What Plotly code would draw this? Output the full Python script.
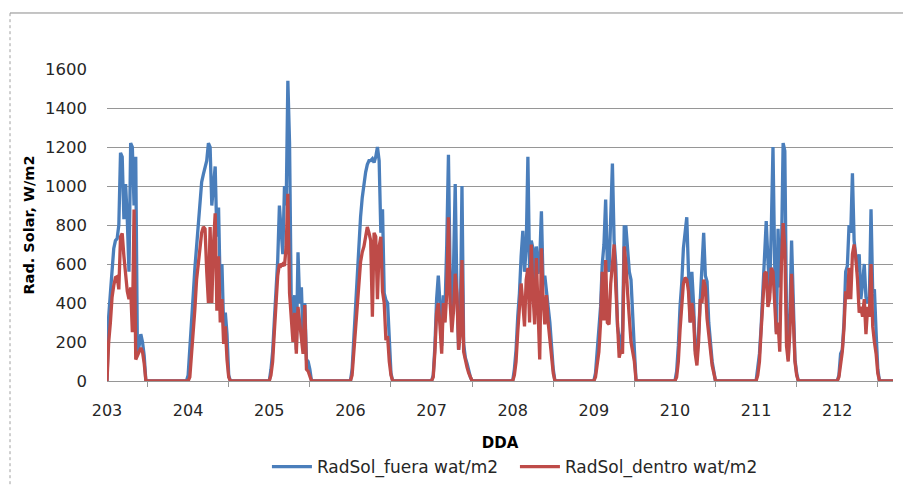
import numpy as np
import plotly.graph_objects as go

# Day-of-year labels on the horizontal axis
dias = [203, 204, 205, 206, 207, 208, 209, 210, 211, 212]
etiquetas = [str(d) for d in dias]
muestras_por_dia = 48          # half-hourly records
muestras_ultimo_dia = 34       # the record stops part-way through day 212

# Outside radiation (W/m2), half-hourly from sunrise of each day
fuera_203 = [0, 330, 450, 560, 680, 720, 730, 800, 1170, 1150, 830, 1010, 830, 560, 1220, 1200, 900, 1150, 140, 180, 240, 200, 130, 0]
fuera_204 = [30, 150, 300, 440, 580, 700, 820, 940, 1020, 1060, 1090, 1130, 1220, 1200, 900, 1010, 1100, 740, 890, 460, 600, 280, 350, 240, 30, 0]
fuera_205 = [0, 60, 150, 310, 480, 620, 900, 790, 650, 1000, 900, 1540, 1220, 400, 280, 440, 160, 660, 400, 480, 210, 400, 110, 100, 60, 0]
fuera_206 = [0, 60, 220, 380, 530, 690, 840, 940, 1010, 1070, 1110, 1130, 1130, 1140, 1120, 1150, 1200, 1130, 760, 880, 450, 415, 400, 200, 40, 0]
fuera_207 = [0, 30, 180, 420, 540, 400, 180, 440, 380, 700, 1160, 540, 300, 580, 1010, 470, 160, 290, 1000, 190, 120, 90, 50, 20, 0, 0]
fuera_208 = [0, 60, 160, 330, 450, 640, 770, 560, 680, 1150, 570, 720, 680, 400, 690, 550, 620, 870, 500, 540, 460, 400, 300, 180, 60, 0]
fuera_209 = [0, 40, 150, 230, 380, 600, 700, 930, 600, 560, 800, 1115, 720, 600, 280, 230, 160, 260, 790, 790, 640, 560, 520, 310, 160, 0]
fuera_210 = [0, 50, 180, 380, 500, 680, 780, 840, 560, 300, 560, 400, 160, 110, 250, 450, 600, 760, 540, 510, 300, 180, 100, 50, 0, 0]
fuera_211 = [0, 70, 140, 280, 450, 690, 820, 620, 450, 780, 1200, 600, 250, 780, 480, 650, 1220, 1180, 350, 110, 340, 720, 350, 110, 40, 0]
fuera_212 = [0, 30, 140, 160, 300, 560, 590, 800, 760, 1065, 720, 640, 560, 650, 420, 500, 600, 430, 400, 420, 880, 450, 470, 250, 60, 0]

# Inside radiation (W/m2), same time base
dentro_203 = [0, 200, 300, 430, 490, 530, 535, 470, 740, 757, 640, 540, 460, 420, 480, 250, 880, 110, 130, 160, 170, 150, 90, 0]
dentro_204 = [0, 20, 130, 280, 370, 520, 600, 680, 760, 790, 780, 560, 400, 790, 400, 700, 860, 360, 640, 300, 420, 190, 280, 110, 20, 0]
dentro_205 = [0, 30, 100, 250, 420, 540, 600, 590, 600, 590, 690, 960, 450, 300, 200, 350, 140, 380, 300, 240, 140, 390, 60, 50, 30, 0]
dentro_206 = [0, 30, 140, 280, 410, 520, 610, 660, 690, 740, 790, 760, 720, 330, 760, 740, 420, 690, 740, 460, 400, 210, 230, 100, 30, 0]
dentro_207 = [0, 20, 150, 350, 400, 280, 140, 400, 300, 450, 840, 400, 250, 360, 550, 450, 160, 240, 620, 150, 100, 70, 40, 15, 0, 0]
dentro_208 = [0, 30, 100, 250, 380, 500, 400, 280, 520, 580, 300, 700, 450, 290, 630, 340, 110, 680, 420, 290, 440, 300, 200, 130, 40, 0]
dentro_209 = [0, 20, 90, 150, 300, 560, 310, 620, 300, 290, 500, 620, 700, 480, 330, 120, 160, 140, 690, 600, 450, 300, 200, 150, 100, 0]
dentro_210 = [0, 20, 100, 260, 380, 500, 530, 520, 460, 300, 400, 330, 140, 80, 200, 420, 400, 520, 480, 320, 240, 140, 80, 40, 0, 0]
dentro_211 = [0, 30, 100, 260, 420, 550, 560, 380, 420, 580, 560, 420, 240, 300, 150, 600, 810, 680, 180, 100, 250, 550, 270, 100, 30, 0]
dentro_212 = [0, 20, 100, 150, 270, 460, 420, 580, 420, 650, 700, 630, 520, 350, 380, 330, 420, 240, 380, 330, 600, 280, 200, 140, 40, 0]

fuera_dias = [fuera_203, fuera_204, fuera_205, fuera_206, fuera_207,
              fuera_208, fuera_209, fuera_210, fuera_211, fuera_212]
dentro_dias = [dentro_203, dentro_204, dentro_205, dentro_206, dentro_207,
               dentro_208, dentro_209, dentro_210, dentro_211, dentro_212]


def serie_completa(bloques):
    """Join the daytime blocks, filling the night hours with zero readings."""
    valores = []
    for i, bloque in enumerate(bloques):
        n = muestras_ultimo_dia if i == len(bloques) - 1 else muestras_por_dia
        valores.extend(bloque + [0] * (n - len(bloque)))
    return valores


fuera = serie_completa(fuera_dias)
dentro = serie_completa(dentro_dias)
dda = dias[0] + np.arange(len(fuera)) / muestras_por_dia

AZUL = "#4a7ebb"
ROJO = "#be4b48"
GRIS = "#969696"
FUENTE = "DejaVu Sans"

fig = go.Figure()
fig.add_trace(go.Scatter(x=dda, y=fuera, mode="lines", name="RadSol_fuera wat/m2",
                         line=dict(color=AZUL, width=3.3)))
fig.add_trace(go.Scatter(x=dda, y=dentro, mode="lines", name="RadSol_dentro wat/m2",
                         line=dict(color=ROJO, width=3.3)))

# Outer frame of the chart area
fig.add_shape(type="line", xref="paper", yref="paper", x0=-0.1234, x1=-0.1234, y0=-0.6, y1=1.1795,
              line=dict(color="#a0a0a0", width=1, dash="dot"))
fig.add_shape(type="line", xref="paper", yref="paper", x0=-0.1234, x1=1.05, y0=1.1795, y1=1.1795,
              line=dict(color="#8a8a8a", width=1))

fig.update_layout(
    width=903, height=487,
    margin=dict(l=107, r=10, t=69, b=106, autoexpand=False),
    paper_bgcolor="white", plot_bgcolor="white",
    font=dict(family=FUENTE, color="#262626"),
    showlegend=True,
    legend=dict(orientation="h", x=0.519, xanchor="center", y=-0.276, yanchor="middle",
                font=dict(family=FUENTE, size=17, color="#262626"),
                bgcolor="rgba(0,0,0,0)", itemwidth=40,
                entrywidth=193, entrywidthmode="pixels"),
    xaxis=dict(
        range=[dias[0], dda[-1]],
        tickvals=dias, ticktext=etiquetas, ticks="",
        tickfont=dict(family=FUENTE, size=16, color="#262626"),
        ticklabelstandoff=15,
        showgrid=False, zeroline=False,
        showline=True, linecolor=GRIS, linewidth=1,
        minor=dict(tickvals=[d + 0.5 for d in dias], ticks="outside", ticklen=5,
                   tickcolor=GRIS, tickwidth=1, showgrid=False),
        title=dict(text="DDA", font=dict(family=FUENTE, size=15, color="#000000", weight="bold"),
                   standoff=18),
    ),
    yaxis=dict(
        range=[0, 1600], dtick=200, tick0=0,
        ticks="", showline=False, zeroline=False,
        showgrid=True, gridcolor=GRIS, gridwidth=1,
        tickfont=dict(family=FUENTE, size=16.5, color="#262626"),
        ticklabelstandoff=19,
        title=dict(text="Rad. Solar, W/m2", font=dict(family=FUENTE, size=14.5, color="#000000", weight="bold"),
                   standoff=6),
    ),
)

fig.write_html("out.html")
